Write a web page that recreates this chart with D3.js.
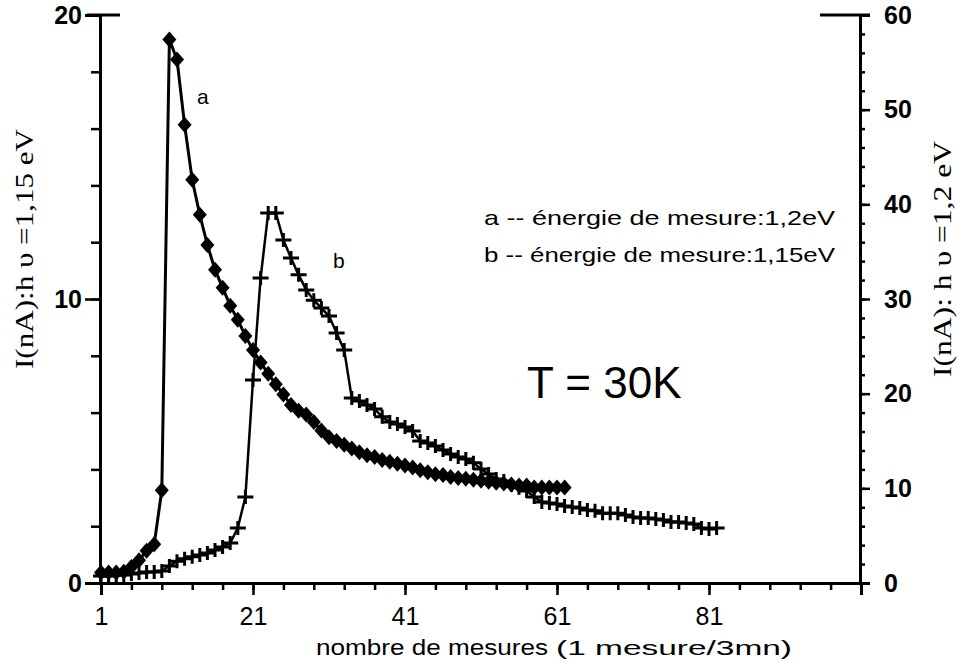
<!DOCTYPE html>
<html>
<head>
<meta charset="utf-8">
<script src="https://cdn.jsdelivr.net/npm/d3@7"></script>
<style>
  body { margin: 0; background: #fff; }
  .tickLab { font-family: "Liberation Sans", Arial, sans-serif; font-weight: bold; font-size: 25px; }
  .xLab { font-family: "Liberation Sans", Arial, sans-serif; font-size: 25px; }
</style>
</head>
<body>
<div id="chart"></div>
<script>
// measure number (1 measurement every 3 min)
var xIndexA = d3.range(1, 63);
var xIndexB = d3.range(1, 83);

// curve a: hv = 1,2 eV, right axis (nA)
var curveA = [1.1, 1.1, 1.1, 1.2, 1.7, 2.4, 3.4, 4.1, 9.8, 57.4,
    55.3, 48.4, 42.6, 38.9, 35.7, 33.1, 31.2, 29.3, 27.8, 26.1,
    24.6, 23.3, 22.1, 21.0, 19.9, 18.8, 18.2, 17.8, 17.0, 16.1,
    15.4, 15.0, 14.6, 14.2, 13.8, 13.5, 13.3, 13.0, 12.8, 12.6,
    12.4, 12.2, 11.9, 11.7, 11.5, 11.4, 11.2, 11.1, 11.0, 10.9,
    10.8, 10.7, 10.6, 10.5, 10.4, 10.3, 10.3, 10.1, 10.1, 10.1,
    10.1, 10.1];

// curve b: hv = 1,15 eV, left axis (nA)
var curveB = [0.25, 0.25, 0.28, 0.28, 0.32, 0.35, 0.39, 0.39, 0.42, 0.60,
    0.77, 0.85, 0.92, 0.99, 1.06, 1.16, 1.27, 1.41, 1.94, 3.03,
    7.15, 10.74, 13.03, 13.03, 12.08, 11.44, 10.85, 10.32, 9.96, 9.68,
    9.40, 8.80, 8.20, 6.51, 6.41, 6.27, 6.13, 5.85, 5.67, 5.60,
    5.49, 5.35, 5.00, 4.93, 4.82, 4.68, 4.54, 4.44, 4.37, 4.23,
    4.01, 3.84, 3.66, 3.59, 3.45, 3.35, 3.24, 3.03, 2.85, 2.82,
    2.78, 2.71, 2.68, 2.64, 2.57, 2.54, 2.46, 2.46, 2.46, 2.39,
    2.32, 2.29, 2.29, 2.25, 2.22, 2.15, 2.15, 2.11, 2.08, 1.94,
    1.90, 1.94];

var xTicks = [1, 21, 41, 61, 81];
var leftTicks = [0, 10, 20];
var rightTicks = [0, 10, 20, 30, 40, 50, 60];

var legendLines = ["a -- énergie de mesure:1,2eV", "b -- énergie de mesure:1,15eV"];

var svgWidth = 960;
var svgHeight = 663;
var sans = "Liberation Sans, Arial, sans-serif";
var serif = "Liberation Serif, Times New Roman, serif";

var svg = d3.select("#chart")
    .append("svg")
    .attr("width", svgWidth)
    .attr("height", svgHeight);

// scales
var xScale = d3.scaleLinear().domain([1, 101]).range([101, 861]);
var yLeft = d3.scaleLinear().domain([0, 20]).range([583, 15]);
var yRight = d3.scaleLinear().domain([0, 60]).range([583, 15]);

function styleAxis(g) {
    g.select(".domain").attr("stroke", "#000").attr("stroke-width", 3);
    g.selectAll(".tick line").attr("stroke", "#000").attr("stroke-width", 2.5);
}

// minor ticks first
svg.append("g")
    .attr("transform", "translate(100,0)")
    .call(d3.axisLeft(yLeft).tickValues(d3.range(0, 21, 2)).tickSize(9).tickFormat(""))
    .call(styleAxis);
svg.append("g")
    .attr("transform", "translate(860,0)")
    .call(d3.axisRight(yRight).tickValues(d3.range(0, 61, 2)).tickSize(5).tickFormat(""))
    .call(styleAxis);
svg.append("g")
    .attr("transform", "translate(0,583)")
    .call(d3.axisBottom(xScale).tickValues(d3.range(1, 102, 4)).tickSize(7).tickFormat(""))
    .call(styleAxis);

// major ticks with labels
var leftAxis = svg.append("g")
    .attr("transform", "translate(100,0)")
    .call(d3.axisLeft(yLeft).tickValues(leftTicks).tickSize(15).tickPadding(3))
    .call(styleAxis);
leftAxis.selectAll("text").attr("class", "tickLab").attr("fill", "#000");

var rightAxis = svg.append("g")
    .attr("transform", "translate(860,0)")
    .call(d3.axisRight(yRight).tickValues(rightTicks).tickSize(10).tickPadding(14))
    .call(styleAxis);
rightAxis.selectAll("text").attr("class", "tickLab").attr("fill", "#000");

var bottomAxis = svg.append("g")
    .attr("transform", "translate(0,583)")
    .call(d3.axisBottom(xScale).tickValues(xTicks).tickSize(12).tickPadding(12))
    .call(styleAxis);
bottomAxis.selectAll("text").attr("class", "xLab").attr("fill", "#000");

// short top stubs seen on the original frame
svg.append("line").attr("x1", 87).attr("x2", 120).attr("y1", 15).attr("y2", 15)
    .attr("stroke", "#000").attr("stroke-width", 3);
svg.append("line").attr("x1", 820).attr("x2", 870).attr("y1", 15).attr("y2", 15)
    .attr("stroke", "#000").attr("stroke-width", 3);

// curve b (crosses, left axis)
var dataB = xIndexB.map((x, i) => ({x: x, y: curveB[i]}));
var lineB = d3.line().x(d => xScale(d.x)).y(d => yLeft(d.y));
svg.append("path")
    .datum(dataB)
    .attr("d", lineB)
    .attr("fill", "none")
    .attr("stroke", "#000")
    .attr("stroke-width", 2.5);
svg.selectAll(".crossB")
    .data(dataB)
    .enter()
    .append("path")
    .attr("class", "crossB")
    .attr("transform", d => `translate(${xScale(d.x)},${yLeft(d.y)})`)
    .attr("d", "M-8,0H8M0,-7V7")
    .attr("stroke", "#000")
    .attr("stroke-width", 3)
    .attr("fill", "none");

// curve a (diamonds, right axis)
var dataA = xIndexA.map((x, i) => ({x: x, y: curveA[i]}));
var lineA = d3.line().x(d => xScale(d.x)).y(d => yRight(d.y));
svg.append("path")
    .datum(dataA)
    .attr("d", lineA)
    .attr("fill", "none")
    .attr("stroke", "#000")
    .attr("stroke-width", 3);
svg.selectAll(".diamA")
    .data(dataA)
    .enter()
    .append("path")
    .attr("class", "diamA")
    .attr("transform", d => `translate(${xScale(d.x)},${yRight(d.y)})`)
    .attr("d", "M0,-8L7,0L0,8L-7,0Z")
    .attr("fill", "#000");

// curve labels
svg.append("text").attr("x", 197).attr("y", 104)
    .style("font-family", sans).style("font-size", "21px")
    .text("a");
svg.append("text").attr("x", 333).attr("y", 268)
    .style("font-family", sans).style("font-size", "21px")
    .text("b");

// legend
svg.selectAll(".legend")
    .data(legendLines)
    .enter()
    .append("text")
    .attr("class", "legend")
    .attr("x", 484)
    .attr("y", (d, i) => 225 + i * 37)
    .attr("textLength", 351)
    .attr("lengthAdjust", "spacingAndGlyphs")
    .style("font-family", sans)
    .style("font-size", "21px")
    .text(d => d);

svg.append("text").attr("x", 527).attr("y", 398)
    .style("font-family", sans).style("font-size", "44px")
    .text("T = 30K");

// axis titles
svg.append("text")
    .attr("x", 316).attr("y", 655)
    .attr("textLength", 232).attr("lengthAdjust", "spacingAndGlyphs")
    .style("font-family", sans).style("font-size", "22px")
    .text("nombre de mesures");
svg.append("text")
    .attr("x", 556).attr("y", 655)
    .attr("textLength", 236).attr("lengthAdjust", "spacingAndGlyphs")
    .style("font-family", sans).style("font-size", "20px")
    .text("(1 mesure/3mn)");

svg.append("text")
    .attr("transform", "translate(33,249) rotate(-90)")
    .attr("text-anchor", "middle")
    .attr("textLength", 240).attr("lengthAdjust", "spacingAndGlyphs")
    .style("font-family", serif)
    .style("font-size", "25px")
    .text("I(nA):h υ =1,15 eV");

svg.append("text")
    .attr("transform", "translate(951,259) rotate(-90)")
    .attr("text-anchor", "middle")
    .attr("textLength", 236).attr("lengthAdjust", "spacingAndGlyphs")
    .style("font-family", serif)
    .style("font-size", "25px")
    .text("I(nA): h υ =1,2 eV");
</script>
</body>
</html>
